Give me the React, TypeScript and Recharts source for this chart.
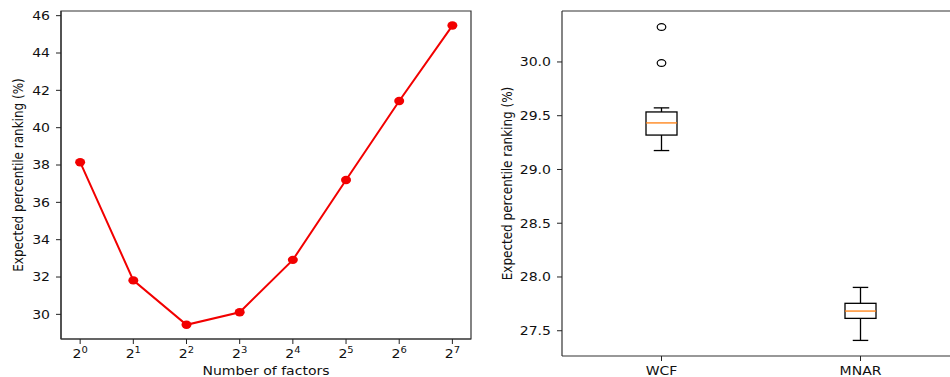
import {
  LineChart, Line, ComposedChart, Bar, XAxis, YAxis, ReferenceArea, ReferenceLine
} from 'recharts'

// Left panel: ranking vs number of factors (2^n)
const factorExponents = [0, 1, 2, 3, 4, 5, 6, 7]
const rankingByFactors = [38.15, 31.82, 29.44, 30.11, 32.92, 37.2, 41.43, 45.47]
const rankingTicks = [30, 32, 34, 36, 38, 40, 42, 44, 46]

// Right panel: box plot summary per method
const methodNames = ['WCF', 'MNAR']
const whiskerLow = [29.176, 27.41]
const quartile1 = [29.32, 27.615]
const medians = [29.433, 27.683]
const quartile3 = [29.535, 27.755]
const whiskerHigh = [29.573, 27.903]
const fliers = [[29.99, 30.325], []]
const methodTicks = [27.5, 28.0, 28.5, 29.0, 29.5, 30.0]

const FONT = '"DejaVu Sans", sans-serif'
const RED = '#f20000'
const SX = 1.17 // text is drawn slightly wide

const lineData = factorExponents.map((n, i) => ({ n, value: rankingByFactors[i] }))
const boxData = methodNames.map((name, i) => ({
  name,
  low: whiskerLow[i],
  q1: quartile1[i],
  median: medians[i],
  q3: quartile3[i],
  high: whiskerHigh[i],
  fliers: fliers[i],
}))

function YTick(props: any, digits: number) {
  const { x, y, payload } = props
  return (
    <g transform={`translate(${x},${y}) scale(${SX},1)`}>
      <text textAnchor="end" dy={4.3} fontSize={12} fill="#111" fontFamily={FONT}>
        {Number(payload.value).toFixed(digits)}
      </text>
    </g>
  )
}

function PowerTick(props: any) {
  const { x, y, payload } = props
  return (
    <g transform={`translate(${x},${y}) scale(${SX},1)`}>
      <text textAnchor="middle" dy={12} fontSize={12} fill="#111" fontFamily={FONT}>
        2<tspan dy={-5} fontSize={8.5}>{payload.value}</tspan>
      </text>
    </g>
  )
}

function NameTick(props: any) {
  const { x, y, payload } = props
  return (
    <g transform={`translate(${x},${y}) scale(${SX},1)`}>
      <text textAnchor="middle" dy={12} fontSize={12} fill="#111" fontFamily={FONT}>
        {payload.value}
      </text>
    </g>
  )
}

function yLabel(text: string, dx: number) {
  return (props: any) => {
    const vb = props.viewBox
    const cx = vb.x + dx
    const cy = vb.y + vb.height / 2
    return (
      <g transform={`translate(${cx},${cy}) scale(${SX},1) rotate(-90)`}>
        <text textAnchor="middle" dominantBaseline="central" fontSize={12} fill="#111" fontFamily={FONT}>
          {text}
        </text>
      </g>
    )
  }
}

function xLabel(text: string, dy: number) {
  return (props: any) => {
    const vb = props.viewBox
    const cx = vb.x + vb.width / 2
    return (
      <g transform={`translate(${cx},${vb.y + dy}) scale(${SX},1)`}>
        <text textAnchor="middle" fontSize={12} fill="#111" fontFamily={FONT}>
          {text}
        </text>
      </g>
    )
  }
}

// box + whiskers + fliers, positions interpolated from the bar's [low, high] span
function BoxShape(props: any) {
  const { x, y, width, height } = props
  const d = props.payload ?? props
  const py = (v: number) => y + ((d.high - v) / (d.high - d.low)) * height
  const cx = x + width / 2
  const half = width / 2
  const cap = width / 4
  const stroke = '#000'
  return (
    <g>
      <line x1={cx} x2={cx} y1={py(d.high)} y2={py(d.q3)} stroke={stroke} strokeWidth={1.3} />
      <line x1={cx} x2={cx} y1={py(d.q1)} y2={py(d.low)} stroke={stroke} strokeWidth={1.3} />
      <line x1={cx - cap} x2={cx + cap} y1={py(d.high)} y2={py(d.high)} stroke={stroke} strokeWidth={1.3} />
      <line x1={cx - cap} x2={cx + cap} y1={py(d.low)} y2={py(d.low)} stroke={stroke} strokeWidth={1.3} />
      <rect x={cx - half} y={py(d.q3)} width={width} height={py(d.q1) - py(d.q3)} fill="none" stroke={stroke} strokeWidth={1.3} />
      <line x1={cx - half} x2={cx + half} y1={py(d.median)} y2={py(d.median)} stroke="#ff7f0e" strokeWidth={1.3} />
      {d.fliers.map((v: number, i: number) => (
        <ellipse key={i} cx={cx} cy={py(v)} rx={4.3} ry={3.4} fill="none" stroke={stroke} strokeWidth={1.2} />
      ))}
    </g>
  )
}

export default function App() {
  const tickStyle = { stroke: '#222', strokeWidth: 1 }
  const axisStyle = { stroke: '#333', strokeWidth: 1.2 }
  return (
    <div style={{ position: 'absolute', left: 0, top: 0, width: 950, height: 377, overflow: 'hidden', background: '#fff' }}>
      <div style={{ position: 'absolute', left: 0, top: 0 }}>
        <LineChart width={480} height={377} data={lineData} margin={{ top: 11, right: 9, left: 0, bottom: 0 }}>
          <XAxis
            dataKey="n"
            type="number"
            domain={[-0.36, 7.35]}
            ticks={factorExponents}
            allowDataOverflow
            height={38}
            tickSize={5}
            tickMargin={2}
            tickLine={tickStyle}
            axisLine={axisStyle}
            tick={PowerTick}
            label={xLabel('Number of factors', 36)}
          />
          <YAxis
            type="number"
            domain={[28.68, 46.25]}
            ticks={rankingTicks}
            allowDataOverflow
            width={61}
            tickSize={5}
            tickMargin={6}
            tickLine={tickStyle}
            axisLine={axisStyle}
            tick={(p: any) => YTick(p, 0)}
            label={yLabel('Expected percentile ranking (%)', 18)}
          />
          <ReferenceArea
            x1={-0.36}
            x2={7.35}
            y1={28.68}
            y2={46.25}
            ifOverflow="visible"
            fill="none"
            fillOpacity={0}
            stroke="#333"
            strokeWidth={1.2}
          />
          <Line
            dataKey="value"
            stroke={RED}
            strokeWidth={2}
            isAnimationActive={false}
            dot={(p: any) => <ellipse key={p.index} cx={p.cx} cy={p.cy} rx={5} ry={4.2} fill={RED} />}
            activeDot={false}
          />
        </LineChart>
      </div>
      <div style={{ position: 'absolute', left: 480, top: 0 }}>
        <ComposedChart width={490} height={377} data={boxData} margin={{ top: 11, right: 10, left: 0, bottom: 0 }}>
          <XAxis
            dataKey="name"
            type="category"
            height={21}
            tickSize={5}
            tickMargin={2}
            tickLine={tickStyle}
            axisLine={axisStyle}
            tick={NameTick}
          />
          <YAxis
            type="number"
            domain={[27.265, 30.474]}
            ticks={methodTicks}
            allowDataOverflow
            width={82}
            tickSize={5}
            tickMargin={6}
            tickLine={tickStyle}
            axisLine={axisStyle}
            tick={(p: any) => YTick(p, 1)}
            label={yLabel('Expected percentile ranking (%)', 27)}
          />
          <ReferenceLine y={30.474} ifOverflow="visible" stroke="#333" strokeWidth={1.2} />
          <Bar
            dataKey={(d: any) => [d.low, d.high]}
            barSize={31}
            isAnimationActive={false}
            shape={BoxShape}
          />
        </ComposedChart>
      </div>
    </div>
  )
}
